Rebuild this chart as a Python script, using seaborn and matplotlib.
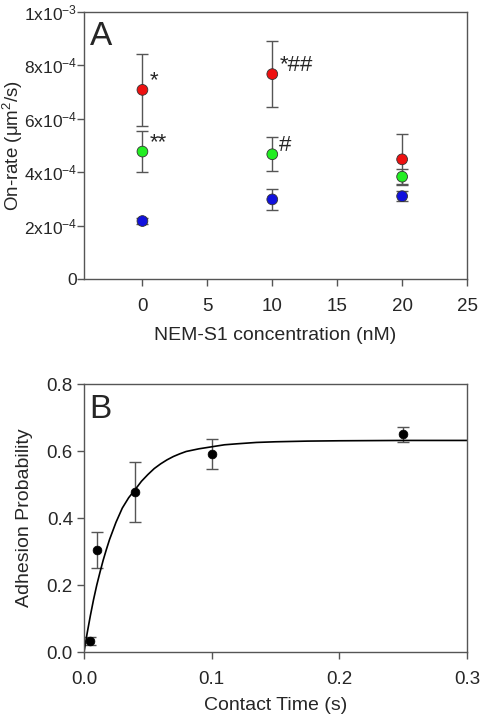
import numpy as np
import pandas as pd
import seaborn as sns
import matplotlib
matplotlib.use('Agg')
import matplotlib.pyplot as plt

# panel A: on-rate vs NEM-S1 concentration
conc = [0, 10, 20]
group_names = ['red', 'green', 'blue']
red_rate = [7.08e-4, 7.67e-4, 4.48e-4]
red_err = [1.35e-4, 1.23e-4, 0.95e-4]
green_rate = [4.77e-4, 4.67e-4, 3.83e-4]
green_err = [0.77e-4, 0.63e-4, 0.28e-4]
blue_rate = [2.17e-4, 2.98e-4, 3.10e-4]
blue_err = [0.10e-4, 0.40e-4, 0.18e-4]
a_yticks = [0, 2e-4, 4e-4, 6e-4, 8e-4, 1e-3]
a_yticklabels = ['0', r'$\mathregular{2x10^{-4}}$', r'$\mathregular{4x10^{-4}}$',
                 r'$\mathregular{6x10^{-4}}$', r'$\mathregular{8x10^{-4}}$', r'$\mathregular{1x10^{-3}}$']
a_xticks = [0, 5, 10, 15, 20, 25]
# significance marks: (x, y, text)
sig_x = [0, 0, 10, 10]
sig_y = [7.08e-4, 4.77e-4, 7.67e-4, 4.67e-4]
sig_text = ['*', '**', '*##', '#']

# panel B: adhesion probability vs contact time
time_s = [0.005, 0.01, 0.04, 0.1, 0.25]
adh_prob = [0.033, 0.305, 0.478, 0.592, 0.650]
adh_err = [0.012, 0.055, 0.09, 0.044, 0.023]
fit_t = [0, 0.0025, 0.005, 0.0075, 0.01, 0.0125, 0.015, 0.0175, 0.02, 0.025, 0.03,
         0.035, 0.04, 0.045, 0.05, 0.055, 0.06, 0.065, 0.07, 0.075, 0.08, 0.09,
         0.1, 0.11, 0.12, 0.135, 0.15, 0.175, 0.2, 0.25, 0.3]
fit_p = [0, 0.057, 0.109, 0.157, 0.200, 0.238, 0.274, 0.306, 0.336, 0.387, 0.430,
         0.461, 0.485, 0.510, 0.530, 0.548, 0.562, 0.574, 0.584, 0.592, 0.599, 0.607,
         0.613, 0.619, 0.622, 0.626, 0.628, 0.630, 0.631, 0.632, 0.632]

sns.set_style('white')
plt.rcParams['font.family'] = ['Liberation Sans', 'DejaVu Sans']
plt.rcParams['mathtext.fontset'] = 'custom'
plt.rcParams['mathtext.rm'] = 'Liberation Sans'

spine_col = '#555555'
err_col = '#555555'

dfa = pd.DataFrame({
    'conc': conc * 3,
    'group': [g for g in group_names for _ in conc],
    'rate': red_rate + green_rate + blue_rate,
    'err': red_err + green_err + blue_err,
})
dfb = pd.DataFrame({'time': time_s, 'prob': adh_prob, 'err': adh_err})
dffit = pd.DataFrame({'time': fit_t, 'prob': fit_p})

fig = plt.figure(figsize=(4.8, 7.2), dpi=100)
ax1 = fig.add_axes([0.175, 0.6125, 0.798, 0.371])
ax2 = fig.add_axes([0.175, 0.0944, 0.798, 0.372])

palette = {'red': '#ee1111', 'green': '#22ee22', 'blue': '#1111dd'}

# panel A
ax1.errorbar(dfa['conc'], dfa['rate'], yerr=dfa['err'], fmt='none', ecolor=err_col,
             elinewidth=1, capsize=4, capthick=1, zorder=2)
sns.scatterplot(data=dfa, x='conc', y='rate', hue='group', palette=palette, s=60,
                edgecolor='#333333', linewidth=0.6, legend=False, ax=ax1, zorder=3)
for x, y, t in zip(sig_x, sig_y, sig_text):
    ax1.annotate(t, (x, y), xytext=(5, -1), textcoords='offset points', fontsize=16,
                 ha='left', va='bottom')
ax1.set_xlim(-4.5, 25)
ax1.set_ylim(0, 1e-3)
ax1.set_xticks(a_xticks)
ax1.set_yticks(a_yticks)
ax1.set_yticklabels(a_yticklabels)
ax1.set_xlabel('NEM-S1 concentration (nM)', fontsize=14)
ax1.set_ylabel(r'On-rate ($\mathregular{\mu m^2/s}$)', fontsize=13.5)
ax1.xaxis.set_label_coords(0.5, -0.178)
ax1.yaxis.set_label_coords(-0.155, 0.5)
ax1.text(0.015, 0.965, 'A', transform=ax1.transAxes, fontsize=24, ha='left', va='top')

# panel B
ax2.errorbar(dfb['time'], dfb['prob'], yerr=dfb['err'], fmt='none', ecolor=err_col,
             elinewidth=1, capsize=4, capthick=1, zorder=2)
sns.lineplot(data=dffit, x='time', y='prob', color='black', linewidth=1.2, ax=ax2, zorder=2)
sns.scatterplot(data=dfb, x='time', y='prob', color='black', s=40, edgecolor='black',
                ax=ax2, zorder=3)
ax2.set_xlim(0, 0.3)
ax2.set_ylim(0, 0.8)
ax2.set_xticks([0, 0.1, 0.2, 0.3])
ax2.set_xticklabels(['0.0', '0.1', '0.2', '0.3'])
ax2.set_yticks([0, 0.2, 0.4, 0.6, 0.8])
ax2.set_yticklabels(['0.0', '0.2', '0.4', '0.6', '0.8'])
ax2.set_xlabel('Contact Time (s)', fontsize=14)
ax2.set_ylabel('Adhesion Probability', fontsize=14)
ax2.xaxis.set_label_coords(0.5, -0.168)
ax2.yaxis.set_label_coords(-0.133, 0.5)
ax2.text(0.015, 0.965, 'B', transform=ax2.transAxes, fontsize=24, ha='left', va='top')

for ax in (ax1, ax2):
    for sp in ax.spines.values():
        sp.set_color(spine_col)
        sp.set_linewidth(1)
    ax.tick_params(direction='out', length=5, width=1, color=spine_col,
                   labelsize=13.5, left=True, bottom=True)
    ax.tick_params(axis='x', pad=9)
    ax.tick_params(axis='y', pad=3)
ax1.tick_params(axis='y', labelsize=12.5, pad=0)

fig.savefig('out.png', dpi=100)
